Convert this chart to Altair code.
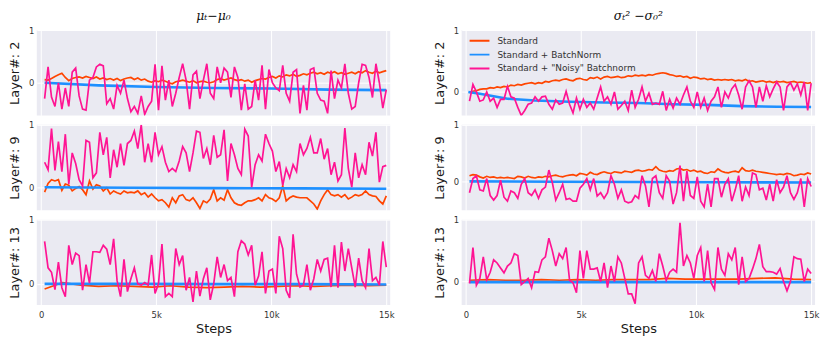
import altair as alt
import numpy as np
import pandas as pd

SERIES = ["Standard", "Standard + BatchNorm", 'Standard + "Noisy" Batchnorm']
COLORS = ["#FF4500", "#1E90FF", "#FF1493"]
WIDTHS = [1.7, 2.6, 1.7]
X_TICKS = [0, 5000, 10000, 15000]
X_DOMAIN = [-190, 15170]
Y_TICKS = [0, 1]
LAYER_TITLES = ["Layer#: 2", "Layer#: 9", "Layer#: 13"]
COL_TITLES = ["μₜ−μ₀", "σₜ² −σ₀²"]

# ---------- mu_t - mu_0 ----------
MU_L2_STD = [0.06,0.05,0.08,0.12,0.15,0.18,0.10,0.04,0.08,0.10,
             0.11,0.09,0.12,0.10,0.08,0.11,0.07,0.09,0.06,0.08,
             0.05,0.08,0.04,0.07,0.09,0.10,0.06,0.09,0.05,0.07,
             0.03,0.01,0.04,0.02,0.05,0.03,0.00,-0.02,0.02,0.03,
             0.05,0.03,0.01,0.04,0.00,0.02,0.03,0.01,0.00,0.02,
             0.06,0.08,0.05,0.07,0.09,0.06,0.04,0.06,0.03,0.05,
             0.01,0.04,0.06,0.08,0.07,0.10,0.12,0.09,0.13,0.11,
             0.15,0.13,0.16,0.12,0.14,0.17,0.15,0.18,0.20,0.17,
             0.19,0.16,0.20,0.18,0.21,0.17,0.19,0.16,0.18,0.20,
             0.17,0.21,0.19,0.23,0.20,0.18,0.22,0.19,0.21,0.23]
MU_L2_BN_STEPS = [150, 2500, 5000, 7500, 10000, 12500, 15000]
MU_L2_BN = [0.0, -0.05, -0.08, -0.10, -0.11, -0.13, -0.14]
MU_L2_NOISY = [-0.30,0.30,-0.27,-0.45,0.00,-0.50,-0.10,-0.45,0.20,0.28,
               -0.25,-0.50,-0.52,0.05,0.10,0.30,0.35,0.32,-0.40,-0.30,
               -0.50,-0.05,-0.20,0.05,-0.30,-0.55,-0.45,-0.58,-0.25,-0.60,
               -0.45,-0.35,0.35,-0.52,0.32,-0.33,0.05,-0.45,-0.20,0.10,
               0.36,0.05,-0.50,0.15,0.22,-0.30,0.05,0.36,-0.20,-0.30,
               0.30,0.00,0.28,0.20,-0.28,0.30,0.10,-0.52,-0.02,-0.50,
               -0.45,0.05,-0.33,0.33,-0.50,0.25,0.00,-0.10,-0.15,0.33,
               -0.20,-0.35,0.20,0.25,-0.58,-0.05,-0.52,0.25,0.28,-0.20,
               -0.33,-0.35,-0.58,0.23,-0.30,0.05,-0.10,0.36,-0.20,-0.50,
               -0.45,0.00,0.35,0.33,0.10,-0.28,0.36,0.00,-0.48,-0.13]

MU_L9_STD = [-0.08,0.06,0.12,0.10,0.12,-0.05,0.05,0.03,-0.06,-0.02,
             0.01,-0.04,-0.12,0.10,-0.03,0.04,0.02,-0.06,-0.01,-0.11,
             -0.06,-0.09,-0.11,-0.06,-0.09,-0.08,-0.09,-0.06,-0.12,-0.09,
             -0.16,-0.11,-0.17,-0.22,-0.20,-0.25,-0.32,-0.17,-0.25,-0.14,
             -0.12,-0.20,-0.22,-0.17,-0.25,-0.34,-0.22,-0.25,-0.19,-0.04,
             -0.22,-0.17,-0.21,-0.04,-0.17,-0.25,-0.28,-0.29,-0.25,-0.22,
             -0.22,-0.20,-0.17,-0.22,-0.12,-0.17,-0.19,-0.23,-0.17,0.02,
             -0.22,-0.17,-0.14,-0.16,-0.17,-0.17,-0.17,-0.22,-0.27,-0.35,
             -0.22,-0.12,-0.04,-0.12,-0.14,-0.12,-0.16,-0.12,-0.19,-0.16,
             -0.12,-0.14,-0.12,-0.06,-0.12,-0.14,-0.15,-0.22,-0.27,-0.14]
MU_L9_BN = [0.0, -0.01, -0.015, -0.02, -0.025]
MU_L9_NOISY = [0.40,0.28,0.94,0.27,0.73,0.25,0.85,0.05,0.55,0.38,
               0.12,0.02,0.75,0.72,0.15,0.23,0.88,0.52,0.80,0.15,
               0.60,0.32,0.70,0.35,0.70,0.75,0.90,0.62,1.00,0.40,
               0.70,0.40,0.88,0.52,0.65,0.40,0.25,0.30,0.25,0.42,
               0.65,0.55,0.25,0.55,0.90,0.88,0.46,0.62,0.36,0.83,
               0.48,0.52,0.92,0.10,0.70,0.52,0.30,0.20,0.93,0.82,
               0.00,0.36,0.52,0.42,0.85,0.70,0.58,0.25,0.41,0.03,
               0.30,0.15,0.36,0.25,0.70,0.52,0.62,0.80,0.55,0.55,
               0.78,0.45,0.62,0.20,0.40,0.10,0.20,0.95,0.30,0.00,
               0.55,0.15,0.36,0.20,0.72,0.50,0.88,0.08,0.33,0.35]

MU_L13_STD = [-0.08,0.02,-0.02,-0.04,-0.03,-0.04,-0.05,-0.03,-0.05,-0.06,
              -0.05,-0.04,-0.05,-0.04,-0.03,-0.04,-0.03,-0.02,-0.03,-0.02]
MU_L13_BN = [0.0, 0.0, -0.005, -0.005, -0.01]
MU_L13_NOISY = [0.66,0.25,0.18,-0.09,0.34,-0.06,-0.20,0.60,0.30,0.48,
                0.44,-0.10,0.30,0.01,0.50,0.50,0.49,0.60,0.54,0.30,
                0.70,0.05,-0.20,0.38,-0.12,0.08,0.25,0.00,-0.02,0.02,
                -0.02,0.45,-0.15,0.00,0.62,-0.20,-0.15,-0.20,0.55,0.30,
                0.44,-0.10,0.10,-0.28,0.20,-0.19,0.08,0.25,-0.25,0.00,
                0.42,0.10,0.30,0.05,0.10,-0.20,0.50,0.67,0.62,0.45,
                0.60,-0.02,0.12,0.50,-0.15,0.20,0.23,-0.15,0.74,0.55,
                -0.10,-0.22,0.77,0.15,-0.05,-0.02,0.30,-0.10,0.08,0.38,
                0.20,0.38,0.40,-0.05,0.60,-0.06,0.65,0.20,0.55,0.25,
                -0.05,0.40,0.05,-0.06,0.55,0.05,0.10,-0.02,0.66,0.26]

# ---------- sigma_t^2 - sigma_0^2 ----------
SG_L2_STD = [-0.01,0.01,0.02,0.04,0.05,0.05,0.07,0.06,0.08,0.07,
             0.09,0.08,0.11,0.10,0.12,0.11,0.13,0.14,0.15,0.13,
             0.15,0.14,0.17,0.16,0.18,0.19,0.18,0.20,0.21,0.19,
             0.18,0.21,0.22,0.20,0.19,0.23,0.22,0.24,0.21,0.24,
             0.25,0.23,0.24,0.25,0.23,0.24,0.26,0.25,0.27,0.26,
             0.27,0.26,0.28,0.27,0.29,0.30,0.31,0.30,0.28,0.27,
             0.25,0.26,0.24,0.25,0.22,0.24,0.23,0.21,0.22,0.20,
             0.21,0.19,0.20,0.19,0.20,0.19,0.20,0.18,0.19,0.18,
             0.20,0.17,0.18,0.16,0.17,0.18,0.16,0.17,0.15,0.17,
             0.16,0.17,0.15,0.16,0.17,0.15,0.16,0.15,0.14,0.15]
SG_L2_BN_STEPS = [100, 600, 1200, 1800, 3000, 4500, 6000, 7500, 9000, 10500, 12000, 13500, 15000]
SG_L2_BN = [0.0, -0.03, -0.07, -0.11, -0.14, -0.16, -0.17, -0.18, -0.20, -0.21, -0.23, -0.24, -0.245]
SG_L2_NOISY = [-0.15,0.12,0.00,-0.15,-0.13,0.00,-0.15,-0.10,-0.25,-0.12,
               -0.12,0.09,-0.08,-0.10,-0.25,-0.38,-0.30,-0.20,-0.18,-0.08,
               -0.15,-0.08,-0.07,-0.20,-0.28,-0.13,-0.20,-0.18,0.01,-0.20,
               -0.34,-0.10,-0.28,-0.12,-0.25,-0.18,-0.28,-0.10,0.08,-0.15,
               -0.08,-0.20,0.00,-0.28,-0.22,-0.15,-0.30,0.03,-0.25,-0.12,
               0.08,-0.15,-0.02,-0.20,-0.18,-0.20,0.01,-0.30,-0.12,-0.26,
               -0.10,-0.20,-0.05,0.08,-0.15,-0.25,0.00,-0.25,-0.10,-0.30,
               -0.15,-0.08,0.08,-0.25,0.00,-0.10,0.05,0.12,-0.05,-0.28,
               0.08,0.18,0.08,-0.25,0.08,-0.15,0.10,-0.08,0.05,0.16,
               0.08,-0.30,0.08,0.15,0.03,0.13,-0.05,0.16,-0.30,0.14]

SG_L9_STD = [0.10,0.12,0.11,0.08,0.06,0.09,0.07,0.08,0.06,0.07,
             0.06,0.07,0.06,0.05,0.09,0.08,0.06,0.09,0.07,0.06,
             0.08,0.07,0.09,0.08,0.10,0.11,0.09,0.08,0.10,0.11,
             0.12,0.10,0.14,0.13,0.11,0.16,0.13,0.12,0.15,0.17,
             0.15,0.14,0.17,0.16,0.15,0.18,0.17,0.16,0.19,0.20,
             0.18,0.19,0.21,0.20,0.26,0.20,0.18,0.17,0.19,0.18,
             0.22,0.23,0.20,0.21,0.18,0.20,0.17,0.18,0.15,0.14,
             0.17,0.16,0.22,0.18,0.16,0.15,0.17,0.18,0.16,0.24,
             0.19,0.18,0.20,0.18,0.17,0.16,0.15,0.14,0.13,0.12,
             0.13,0.12,0.14,0.13,0.10,0.11,0.13,0.12,0.15,0.13]
SG_L9_BN = [0.0, -0.005, -0.01, -0.015, -0.02]
SG_L9_NOISY = [-0.20,0.05,0.10,-0.15,-0.17,0.05,-0.25,-0.33,-0.25,0.02,
               -0.28,-0.35,-0.17,-0.20,-0.30,-0.05,0.05,-0.20,-0.25,-0.15,
               -0.30,-0.15,-0.10,0.20,-0.02,-0.33,-0.20,-0.05,-0.32,-0.30,
               -0.35,-0.35,-0.12,-0.05,0.05,-0.15,0.05,-0.26,-0.20,-0.30,
               -0.20,0.10,-0.05,-0.30,-0.15,-0.35,-0.38,-0.36,-0.25,-0.30,
               0.10,-0.08,-0.45,0.05,0.10,-0.20,-0.30,0.10,0.00,-0.40,
               -0.20,0.28,-0.35,0.18,-0.25,-0.30,0.08,-0.35,-0.45,-0.05,
               -0.45,0.05,0.05,-0.28,-0.05,0.05,-0.35,-0.15,0.10,-0.35,
               -0.10,-0.25,0.15,0.12,-0.15,-0.12,-0.33,-0.05,-0.35,0.03,
               -0.20,-0.10,0.10,-0.20,-0.32,-0.20,0.05,-0.45,0.05,-0.09]

SG_L13_STD = [0.02,0.03,0.02,0.02,0.03,0.02,0.03,0.02,0.03,0.03,
              0.03,0.05,0.04,0.04,0.04,0.04,0.05,0.06,0.04,0.03]
SG_L13_BN = [-0.01, -0.01, -0.01]
SG_L13_NOISY = [-0.03,0.55,-0.06,0.05,0.40,0.03,0.15,0.35,0.30,0.22,
                0.14,0.25,0.30,0.45,0.42,-0.05,0.00,0.05,-0.10,0.16,
                0.15,0.35,0.40,0.70,0.50,0.25,0.45,0.37,0.55,0.02,
                -0.02,-0.18,0.50,0.05,0.50,0.20,0.20,0.22,0.00,0.30,
                -0.10,0.25,0.00,0.40,0.30,0.05,-0.20,-0.20,-0.36,0.30,
                0.40,0.10,0.05,0.18,0.00,0.45,0.25,0.02,0.15,0.20,
                0.15,0.95,0.25,0.42,0.30,0.05,0.42,0.55,0.00,0.50,
                -0.02,-0.13,0.55,0.20,0.10,0.45,0.35,0.55,-0.05,0.40,
                0.00,0.05,0.20,0.37,0.60,0.24,0.16,0.16,0.15,0.12,
                0.21,0.00,-0.15,0.00,0.40,0.37,0.36,0.00,0.20,0.13]

Y_DOMAINS = {
    ("mu", 0): [-0.62, 1], ("mu", 1): [-0.37, 1], ("mu", 2): [-0.33, 1],
    ("sg", 0): [-0.38, 1], ("sg", 1): [-0.51, 1], ("sg", 2): [-0.38, 1],
}


def grid_steps(n):
    return np.linspace(150, 15000, n)


def frame(std, bn, noisy, bn_steps=None):
    parts = []
    for k, (vals, st) in enumerate([(std, None), (bn, bn_steps), (noisy, None)]):
        steps = grid_steps(len(vals)) if st is None else st
        parts.append(pd.DataFrame({"step": steps, "value": vals,
                                   "series": SERIES[k], "k": k}))
    return pd.concat(parts, ignore_index=True)


def panel(df, ydom, ytitle, title=None, bottom=False, legend=False):
    base = alt.Chart(df)
    x = alt.X("step:Q",
              scale=alt.Scale(domain=X_DOMAIN, nice=False, zero=False),
              axis=alt.Axis(values=X_TICKS, grid=True, labels=bottom,
                            title="Steps" if bottom else None,
                            labelExpr="datum.value == 0 ? '0' : (datum.value / 1000) + 'k'",
                            labelPadding=6, titlePadding=3, titleFontSize=13,
                            labelFontSize=8.5))
    y = alt.Y("value:Q",
              scale=alt.Scale(domain=ydom, nice=False, zero=False),
              axis=alt.Axis(values=Y_TICKS, grid=True, format="d",
                            title=ytitle, titleFontSize=13, titlePadding=7,
                            labelPadding=3, labelFontSize=8.5))
    if legend:
        leg = alt.Legend(orient="none", legendX=7, legendY=4, title=None,
                         symbolType="stroke", symbolSize=400, symbolStrokeWidth=2,
                         labelFontSize=9, labelColor="#333", labelOffset=7,
                         clipHeight=13.5, rowPadding=0, padding=0,
                         labelFont="DejaVu Sans")
    else:
        leg = None
    color = alt.Color("series:N", scale=alt.Scale(domain=SERIES, range=COLORS),
                      legend=leg)
    layers = []
    for k in range(3):
        layers.append(
            base.transform_filter(alt.datum.k == k)
            .mark_line(strokeWidth=WIDTHS[k], clip=True)
            .encode(x=x, y=y, color=color)
        )
    ch = alt.layer(*layers).properties(width=356, height=86)
    if title is not None:
        ch = ch.properties(title=alt.TitleParams(
            text=title, font="DejaVu Serif", fontSize=12.5, fontStyle="italic",
            fontWeight="normal", offset=4, anchor="middle", color="#111"))
    return ch


data = {
    ("mu", 0): frame(MU_L2_STD, MU_L2_BN, MU_L2_NOISY, MU_L2_BN_STEPS),
    ("mu", 1): frame(MU_L9_STD, MU_L9_BN, MU_L9_NOISY),
    ("mu", 2): frame(MU_L13_STD, MU_L13_BN, MU_L13_NOISY),
    ("sg", 0): frame(SG_L2_STD, SG_L2_BN, SG_L2_NOISY, SG_L2_BN_STEPS),
    ("sg", 1): frame(SG_L9_STD, SG_L9_BN, SG_L9_NOISY),
    ("sg", 2): frame(SG_L13_STD, SG_L13_BN, SG_L13_NOISY),
}

panels = []
for r in range(3):
    for c, key in enumerate(["mu", "sg"]):
        panels.append(panel(
            data[(key, r)], Y_DOMAINS[(key, r)], LAYER_TITLES[r],
            title=COL_TITLES[c] if r == 0 else None,
            bottom=(r == 2),
            legend=(key == "sg" and r == 0),
        ))

chart = (
    alt.concat(*panels, columns=2, spacing={"row": 9.5, "column": 72},
               bounds="flush")
    .resolve_scale(x="independent", y="independent", color="independent")
    .resolve_axis(x="independent", y="independent")
    .resolve_legend(color="independent")
    .properties(padding={"left": 0, "top": 0, "right": 4, "bottom": 0},
                background="white")
    .configure_view(fill="#EAEAF2", strokeWidth=0)
    .configure_axis(domain=False, ticks=False, gridColor="white", gridWidth=1,
                    gridOpacity=1, labelColor="#333", labelFont="DejaVu Sans",
                    titleFont="DejaVu Sans", titleFontWeight="normal",
                    titleColor="#1a1a1a")
)

chart.save("out.html", embed_options={"renderer": "svg", "actions": False})
